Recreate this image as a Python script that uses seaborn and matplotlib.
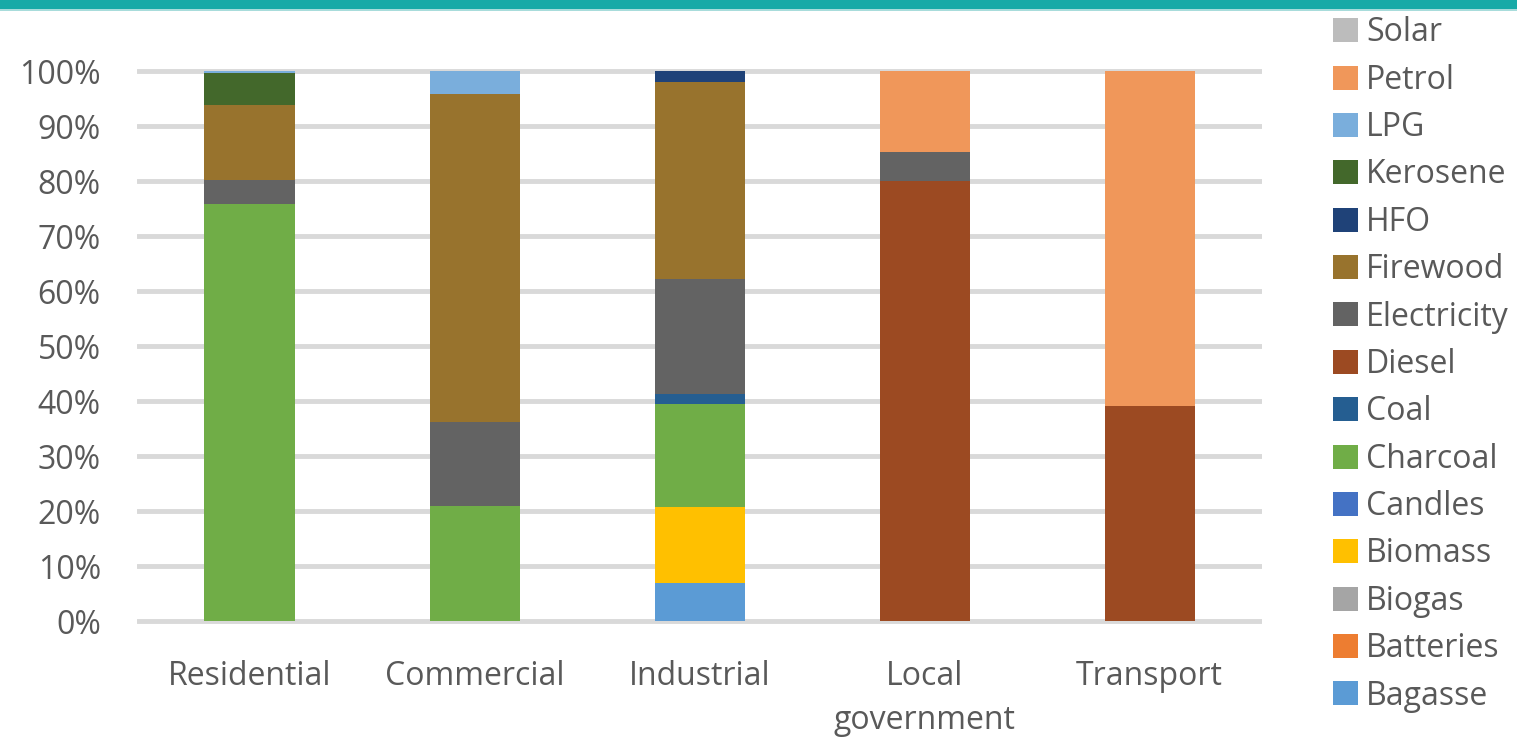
import numpy as np
import pandas as pd
import seaborn as sns
import matplotlib.pyplot as plt
from matplotlib.patches import Rectangle

# Energy mix by sector (share of total, %)
sectors = ['Residential', 'Commercial', 'Industrial', 'Local\ngovernment', 'Transport']

# legend order (top to bottom) = stacking order from top
fuels = ['Solar', 'Petrol', 'LPG', 'Kerosene', 'HFO', 'Firewood', 'Electricity',
         'Diesel', 'Coal', 'Charcoal', 'Candles', 'Biomass', 'Biogas', 'Batteries', 'Bagasse']

solar = [0, 0, 0, 0, 0]
petrol = [0, 0, 0, 14.8, 60.9]
lpg = [0.4, 4.1, 0, 0, 0]
kerosene = [5.8, 0, 0, 0, 0]
hfo = [0, 0, 2.0, 0, 0]
firewood = [13.6, 59.8, 35.9, 0, 0]
electricity = [4.4, 15.2, 20.9, 5.2, 0]
diesel = [0, 0, 0, 80.0, 39.1]
coal = [0, 0, 1.7, 0, 0]
charcoal = [75.8, 20.9, 18.7, 0, 0]
candles = [0, 0, 0, 0, 0]
biomass = [0, 0, 13.8, 0, 0]
biogas = [0, 0, 0, 0, 0]
batteries = [0, 0, 0, 0, 0]
bagasse = [0, 0, 7.0, 0, 0]

colors = ['#bcbcbc', '#f0975a', '#7aaedc', '#43682b', '#1f4278', '#98732d', '#636363',
          '#9c4a22', '#255e91', '#70ad47', '#4472c4', '#ffc000', '#a5a5a5', '#ed7d31', '#5b9bd5']

values = [solar, petrol, lpg, kerosene, hfo, firewood, electricity, diesel, coal,
          charcoal, candles, biomass, biogas, batteries, bagasse]

sns.set_style('white')
plt.rcParams['font.family'] = ['Open Sans', 'DejaVu Sans']

fig = plt.figure(figsize=(15.17, 7.41), dpi=100)
ax = fig.add_axes([0.0903, 0.1545, 0.7417, 0.7571])

# draw cumulative bars from the top series down so each segment shows through
cum = np.cumsum(np.array(values[::-1]), axis=0)[::-1]
for fuel, top, col in zip(fuels, cum, colors):
    sns.barplot(x=sectors, y=top, color=col, width=0.4, linewidth=0,
                saturation=1, order=sectors, ax=ax, zorder=3)

ax.set_ylim(-1, 101)
ax.set_xlim(-0.5, 4.5)
ax.set_yticks(np.arange(0, 101, 10))
ax.set_yticklabels([f'{t}%' for t in range(0, 101, 10)])
ax.yaxis.grid(True, color='#d9d9d9', linewidth=3.5, zorder=0)
ax.set_axisbelow(True)
for s in ax.spines.values():
    s.set_visible(False)
ax.tick_params(axis='both', length=0, labelsize=23, labelcolor='#595959')
ax.tick_params(axis='y', pad=26)
ax.tick_params(axis='x', pad=24)
for t in ax.get_xticklabels():
    t.set_linespacing(1.45)
ax.set_xlabel('')
ax.set_ylabel('')

handles = [Rectangle((0, 0), 1, 1, facecolor=c, edgecolor='none') for c in colors]
fig.legend(handles, fuels, loc='upper left', bbox_to_anchor=(0.879, 0.978),
           frameon=False, fontsize=23, labelcolor='#595959',
           handlelength=0.78, handleheight=0.78, handletextpad=0.25,
           labelspacing=0.45, borderaxespad=0, borderpad=0)

# teal band along the top edge
fig.patches.append(Rectangle((0, 0.988), 1, 0.012, transform=fig.transFigure,
                             facecolor='#18aaa7', edgecolor='none'))
fig.patches.append(Rectangle((0, 0.985), 1, 0.003, transform=fig.transFigure,
                             facecolor='#a8dcdb', edgecolor='none'))

fig.savefig('out.png', dpi=100)
